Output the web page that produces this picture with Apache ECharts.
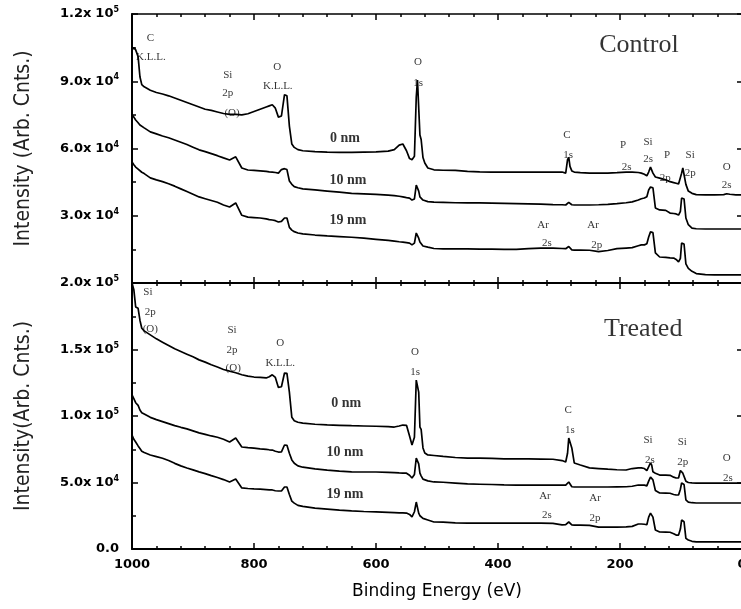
<!DOCTYPE html>
<html>
<head>
<meta charset="utf-8">
<script src="https://cdn.jsdelivr.net/npm/echarts@6/dist/echarts.min.js"></script>
<style>
html,body{margin:0;padding:0;background:#fff;}
#chart{width:741px;height:609px;}
</style>
</head>
<body>
<div id="chart"></div>
<script>
// Binding energy grid (eV)
const energy = [
  1000, 997, 994, 990, 987, 984, 980, 970, 960, 950,
  940, 930, 920, 910, 900, 890, 880, 870, 860, 850,
  840, 830, 820, 810, 800, 790, 780, 775, 770, 765,
  760, 755, 750, 746, 742, 738, 734, 728, 720, 700,
  680, 660, 640, 620, 600, 580, 570, 562, 556, 550,
  545, 541, 537, 534, 532, 530, 528, 526, 523, 520,
  515, 505, 490, 470, 450, 430, 410, 390, 370, 350,
  330, 310, 295, 289, 286, 284, 282, 279, 275, 265,
  250, 235, 220, 205, 190, 180, 170, 165, 160, 156,
  153, 150, 148, 146, 142, 135, 125, 118, 112, 108,
  104, 101, 99, 97, 95, 92, 88, 82, 75, 60,
  45, 30, 25, 20, 10, 0
];

// Intensities in thousands of counts
const control0 = [
  104, 105, 104, 101, 92, 88.5, 87.5, 86, 85, 84.3,
  83.5, 82.5, 81.5, 80.5, 79.5, 78.5, 77.5, 77, 76.3, 75.6,
  75.2, 75.2, 75, 75.5, 76.5, 77.5, 78.5, 79, 79.5, 78,
  74, 74.5, 84, 83.5, 70, 62, 60.5, 59.5, 59, 58.6,
  58.4, 58.3, 58.3, 58.4, 58.5, 58.8, 59.5, 61.5, 62, 59,
  55.5, 55, 56.5, 83, 90.5, 90, 66, 64, 56, 53.5,
  51.3, 50.5, 50.3, 50.2, 49.8, 49.6, 49.5, 49.5, 49.5, 49.5,
  49.5, 49.5, 49.5, 49, 55, 56, 52, 50, 49.5, 49.2,
  49, 49, 49, 49.2, 49.5, 49.5, 49.3, 49, 48.5, 47.8,
  49.5, 51.7, 51.5, 49, 47.3, 46.8, 46, 45.2, 44.8, 44.5,
  44.2, 44, 49, 51.3, 51, 44, 41, 40, 39.4, 39.3,
  39.3, 39.4, 39.8, 39.6, 39.3, 39.3
];
const control10 = [
  75, 74, 72.7, 71.5, 70.5, 69.8, 69.2, 67.4, 66.5, 65.6,
  64.8, 63.8, 62.8, 61.8, 60.6, 59.4, 58.6, 57.7, 56.8, 55.8,
  54.9, 56.3, 51.3, 50.4, 50.2, 50, 49.8, 49.6, 49.5, 49.3,
  49, 50.6, 51, 50.6, 45.5, 44, 43, 42.5, 42, 41.5,
  41, 40.5, 40, 39.8, 39.5, 39.2, 39, 38.7, 38.4, 38.1,
  37.9, 37, 37.5, 43.7, 43.7, 41, 38.4, 38, 37, 36.6,
  36.3, 36.1, 36, 35.8, 35.7, 35.7, 35.6, 35.5, 35.4, 35.3,
  35.2, 35, 34.9, 34.8, 35.5, 36, 35.3, 34.9, 34.8, 34.8,
  34.8, 34.9, 35.1, 35.4, 35.8, 36.2, 37, 37.6, 37.9, 38.5,
  41.5, 42.8, 42.8, 42.5, 33.5, 32.6, 32.4, 31.2, 31, 30.8,
  30.3, 32, 37.9, 37.9, 37.5, 29, 26, 24.5, 24.2, 24.1,
  24.1, 24.1, 24.1, 24.1, 24.1, 24.1
];
const control19 = [
  54, 52.8, 51.7, 50.8, 50.1, 49.4, 48.8, 46.9, 46, 45.2,
  44.3, 43.2, 42, 40.8, 39.6, 38.4, 37.6, 36.8, 36, 34.8,
  33.9, 35.7, 30.2, 29.4, 29.2, 29, 28.6, 28.3, 28.1, 27.8,
  27.2, 27.5, 29, 29, 24.8, 23.6, 22.9, 22.3, 21.9, 21.4,
  21, 20.7, 20.4, 20, 19.5, 19, 18.7, 18.4, 18.2, 18,
  17.8, 17, 17.8, 22.3, 22.3, 20, 18.3, 17.5, 16.5, 16.3,
  16, 15.4, 15.2, 15.2, 15.2, 15.1, 15.1, 15, 15, 15.3,
  15.6, 15.6, 15.4, 15.3, 16, 16.3, 15.5, 14.8, 14.7, 14.7,
  14.6, 14, 14.5, 15.3, 15.6, 15.8, 16.6, 17, 17, 17.5,
  20.5, 22.8, 22.8, 22.5, 13.4, 11.6, 11.4, 11.2, 11.1, 10.5,
  9.4, 11, 17.8, 17.8, 17.4, 8.5, 6.5, 5.2, 4.2, 3.7,
  3.6, 3.6, 3.6, 3.6, 3.6, 3.6
];
const treated0 = [
  200, 195, 182, 181, 172, 166, 164, 161, 158, 155.5,
  153, 150.5, 148.5, 146.5, 144.5, 142.2, 140.5, 138.5, 136.8, 135,
  133.7, 132.5, 131, 130, 129.3, 129, 128.6, 129.5, 131, 129,
  121.5, 122, 132.3, 132, 118, 99, 96.5, 95.3, 94.7, 93.8,
  93.3, 93, 92.7, 92.5, 92.3, 92, 91.7, 92.5, 93.2, 93,
  85, 78.2, 84, 127, 127, 118, 91.7, 90, 76, 72.2,
  70.7, 70.3, 69.6, 68.8, 68.4, 68.3, 68.1, 67.8, 67.7, 67.7,
  67.6, 67.5, 66.5, 65.4, 72, 83.5, 83.5, 76, 64.7, 63.2,
  61, 60.5, 60, 59.6, 59.4, 60.5, 61, 61, 60.5, 59,
  58, 64.7, 63, 58, 57, 55.6, 55.5, 55.4, 54, 53.4,
  53.4, 59, 59.4, 57, 56.5, 51, 50, 49.7, 49.6, 49.6,
  49.6, 49.6, 49.6, 49.6, 49.6, 49.6
];
const treated10 = [
  115.8, 113, 110, 108, 104.5, 102.5, 101.5, 99, 97.3, 95.8,
  94.3, 92.8, 91.5, 90.3, 88.8, 87.3, 86.2, 85, 84, 82.5,
  80.5, 83.5, 76.7, 76.2, 75.8, 75.3, 74.9, 74.6, 74.4, 73.5,
  72.9, 73, 78.2, 78, 72, 67, 64.5, 62.5, 61.5, 60.2,
  59.3, 58.5, 58, 57.9, 57.9, 57.6, 57.4, 57.2, 57.1, 57,
  55.5, 53.4, 56, 68.4, 68.4, 64, 57.1, 55, 52.5, 51.9,
  51.2, 50.4, 50.2, 49.6, 48.9, 48.7, 48.5, 48.2, 48.1, 48.1,
  48.1, 48.1, 48, 48, 49.5, 50.4, 49.2, 46.8, 46.6, 46.6,
  46.6, 46.6, 46.6, 46.7, 46.8, 47.2, 48.1, 48.1, 48, 47.5,
  51, 54.1, 54.1, 52, 44, 42.1, 42, 41.9, 41, 40.6,
  40.6, 45, 49.6, 49.6, 48.5, 37, 35.3, 34.8, 34.6, 34.6,
  34.6, 34.6, 34.6, 34.6, 34.6, 34.6
];
const treated19 = [
  85.7, 82.5, 80.5, 77.5, 75.5, 73.5, 72.5, 70.7, 69.5, 68.2,
  66.5, 64.4, 62.5, 60.9, 59.5, 58, 56.7, 55.2, 53.8, 52.2,
  50.4, 52.6, 45.9, 45.5, 45.2, 45, 44.7, 44.5, 44.4, 43.8,
  43.6, 43.6, 46.6, 46.6, 41, 36, 34.5, 32.8, 32, 30.8,
  30, 29.2, 28.6, 28.2, 27.9, 27.6, 27.4, 27.2, 27.1, 27,
  26, 24.1, 28, 35.3, 35, 27, 25, 24.1, 23, 22.3,
  21.8, 20.3, 20.2, 19.6, 19.5, 19.5, 19.5, 19.5, 19.5, 19.5,
  19.4, 19.3, 18.2, 18.3, 19.5, 20.3, 19.5, 18.2, 18, 18,
  17.8, 16.5, 16.5, 16.5, 16.6, 17, 18.8, 18.8, 18.6, 18.2,
  24, 27, 27, 24, 14.3, 12.8, 12.7, 12.6, 11.5, 10.5,
  10.5, 15, 21.8, 21.8, 20.5, 8, 6.8, 5.8, 5.3, 5.3,
  5.3, 5.3, 5.3, 5.3, 5.3, 5.3
];

// Tick labels (index = tick number from 0)
const xTickLabels = ['0', '200', '400', '600', '800', '1000'];
const topYTickLabels = ['', '3.0x10^4', '6.0x10^4', '9.0x10^4', '1.2x10^5'];
const bottomYTickLabels = ['0.0', '5.0x10^4', '1.0x10^5', '1.5x10^5', '2.0x10^5'];

// Annotations: [energy, intensity (k), text, style]
const topNotes = [
  [970, 109.3, 'C', 'p'], [969, 100.8, 'K.L.L.', 'p'],
  [843, 92.8, 'Si', 'p'], [843, 84.8, '2p', 'p'], [836, 75.8, '(O)', 'p'],
  [762, 96.4, 'O', 'p'], [761, 87.9, 'K.L.L.', 'p'],
  [531, 98.6, 'O', 'p'], [531, 89.2, '1s', 'p'],
  [287, 66, 'C', 'p'], [285, 57.1, '1s', 'p'],
  [195, 61.6, 'P', 'p'], [189, 51.7, '2s', 'p'],
  [154, 62.9, 'Si', 'p'], [154, 55.3, '2s', 'p'],
  [123, 57.1, 'P', 'p'], [126, 46.8, '2p', 'p'],
  [85, 57.1, 'Si', 'p'], [85, 49.1, '2p', 'p'],
  [25, 51.7, 'O', 'p'], [25, 43.7, '2s', 'p'],
  [326, 25.9, 'Ar', 'p'], [320, 17.8, '2s', 'p'],
  [244, 25.9, 'Ar', 'p'], [238, 17, '2p', 'p'],
  [651, 64.7, '0 nm', 'n'], [646, 45.9, '10 nm', 'n'], [646, 28.1, '19 nm', 'n'],
  [169, 106.2, 'Control', 't']
];
const bottomNotes = [
  [974, 193.2, 'Si', 'p'], [970, 178.2, '2p', 'p'], [970, 165.4, '(O)', 'p'],
  [836, 164.7, 'Si', 'p'], [836, 149.6, '2p', 'p'], [834, 136.1, '(O)', 'p'],
  [757, 154.9, 'O', 'p'], [757, 139.8, 'K.L.L.', 'p'],
  [536, 148.1, 'O', 'p'], [536, 133.1, '1s', 'p'],
  [285, 104.5, 'C', 'p'], [282, 89.5, '1s', 'p'],
  [154, 82, 'Si', 'p'], [151, 66.9, '2s', 'p'],
  [98, 80.5, 'Si', 'p'], [97, 65.4, '2p', 'p'],
  [25, 68.4, 'O', 'p'], [23, 53.4, '2s', 'p'],
  [323, 39.8, 'Ar', 'p'], [320, 25.6, '2s', 'p'],
  [241, 38.3, 'Ar', 'p'], [241, 23.3, '2p', 'p'],
  [649, 109.8, '0 nm', 'n'], [651, 72.9, '10 nm', 'n'], [651, 41.4, '19 nm', 'n'],
  [162, 165.4, 'Treated', 't']
];

const noteStyles = {
  p: { fontFamily: 'Liberation Serif, serif', fontSize: 11, color: '#000' },
  n: { fontFamily: 'Liberation Serif, serif', fontSize: 14, fontWeight: 'bold', color: '#000' },
  t: { fontFamily: 'Liberation Serif, serif', fontSize: 26, color: '#000' }
};

function sciLabel(s) {
  if (s.indexOf('^') < 0) return '{m|' + s + '}';
  const parts = s.split('^');
  const base = parts[0].replace('x10', '');
  return '{m|' + base + 'x}{b|10}{s|' + parts[1] + '}';
}
const richY = {
  m: { fontFamily: 'DejaVu Sans', fontWeight: 'bold', fontSize: 13, color: '#000', lineHeight: 16 },
  b: { fontFamily: 'DejaVu Sans', fontWeight: 'bold', fontSize: 13, color: '#000', lineHeight: 16, padding: [0, 0, 0, 4] },
  s: { fontFamily: 'DejaVu Sans', fontWeight: 'bold', fontSize: 8, color: '#000', lineHeight: 8, verticalAlign: 'top' }
};

const black = '#000';
function xAx(gridIndex, position, showLabels, width) {
  const ax = {
    type: 'value', gridIndex: gridIndex, position: position,
    min: 0, max: 1000, interval: 200, inverse: true,
    axisLine: { show: true, onZero: false, lineStyle: { color: black, width: width } },
    axisTick: { show: true, inside: true, length: 6, lineStyle: { color: black, width: 1.5 } },
    minorTick: { show: true, splitNumber: 5, length: 3, lineStyle: { color: black, width: 1.5 } },
    splitLine: { show: false },
    axisLabel: {
      show: showLabels, margin: 9, fontFamily: 'DejaVu Sans', fontWeight: 'bold', fontSize: 13, color: black,
      formatter: function (v) { return xTickLabels[Math.round(v / 200)]; }
    }
  };
  if (showLabels) {
    ax.name = 'Binding Energy (eV)';
    ax.nameLocation = 'middle';
    ax.nameGap = 34;
    ax.nameTextStyle = { fontFamily: 'DejaVu Sans', fontSize: 17, color: black };
  }
  return ax;
}
function yAx(gridIndex, position, max, interval, labels, name) {
  const left = position === 'left';
  const ax = {
    type: 'value', gridIndex: gridIndex, position: position,
    min: 0, max: max, interval: interval,
    axisLine: { show: true, onZero: false, lineStyle: { color: black, width: 2 } },
    axisTick: { show: true, inside: true, length: left ? 6 : 5, lineStyle: { color: black, width: 1.5 } },
    minorTick: { show: left, splitNumber: 2, length: 4, lineStyle: { color: black, width: 1.5 } },
    splitLine: { show: false },
    axisLabel: {
      show: left, margin: 13, rich: richY,
      formatter: function (v) { const i = Math.round(v / interval); return labels && labels[i] ? sciLabel(labels[i]) : ''; }
    }
  };
  if (name) {
    ax.name = name;
    ax.nameLocation = 'middle';
    ax.nameGap = 98;
    ax.nameTextStyle = { fontFamily: 'Liberation Sans Narrow, DejaVu Sans Condensed, sans-serif', fontSize: 21, color: '#222' };
  }
  return ax;
}

function lineSeries(values, xi, yi) {
  return {
    type: 'line', xAxisIndex: xi, yAxisIndex: yi,
    data: energy.map(function (e, i) { return [e, values[i]]; }),
    showSymbol: false, symbol: 'none',
    lineStyle: { color: black, width: 1.7 },
    animation: false, silent: true
  };
}
function noteSeries(notes, xi, yi) {
  return {
    type: 'scatter', xAxisIndex: xi, yAxisIndex: yi,
    symbolSize: 1, itemStyle: { color: 'rgba(0,0,0,0)' },
    silent: true, animation: false, z: 5,
    data: notes.map(function (n) {
      return { value: [n[0], n[1]], name: n[2], label: Object.assign({ show: true, position: 'inside', formatter: '{b}' }, noteStyles[n[3]]) };
    })
  };
}

const chart = echarts.init(document.getElementById('chart'));
chart.setOption({
  animation: false,
  backgroundColor: '#fff',
  grid: [
    { left: 132, top: 14, width: 610, height: 269, outerBoundsMode: 'none', containLabel: false },
    { left: 132, top: 283, width: 610, height: 266, outerBoundsMode: 'none', containLabel: false }
  ],
  xAxis: [
    xAx(0, 'bottom', false, 2),
    xAx(0, 'top', false, 1.5),
    xAx(1, 'top', false, 2),
    xAx(1, 'bottom', true, 2)
  ],
  yAxis: [
    yAx(0, 'left', 120, 30, topYTickLabels, 'Intensity (Arb. Cnts.)'),
    yAx(0, 'right', 120, 30, null, null),
    yAx(1, 'left', 200, 50, bottomYTickLabels, 'Intensity(Arb. Cnts.)'),
    yAx(1, 'right', 200, 50, null, null)
  ],
  series: [
    lineSeries(control0, 0, 0),
    lineSeries(control10, 0, 0),
    lineSeries(control19, 0, 0),
    lineSeries(treated0, 3, 2),
    lineSeries(treated10, 3, 2),
    lineSeries(treated19, 3, 2),
    noteSeries(topNotes, 0, 0),
    noteSeries(bottomNotes, 3, 2)
  ]
});
</script>
</body>
</html>
